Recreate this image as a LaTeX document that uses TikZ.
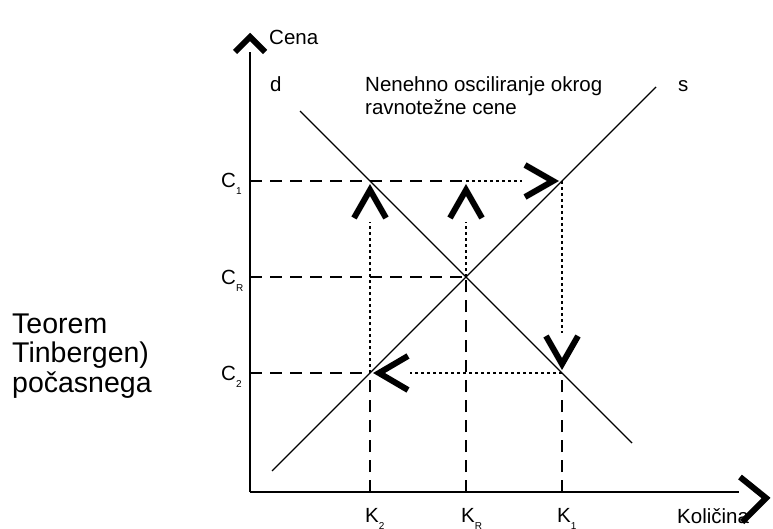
\documentclass[tikz,border=0pt]{standalone}
\usepackage{fontspec}
\setmainfont{Liberation Sans}
\usetikzlibrary{positioning}

% lowered index for the axis marks
\newcommand{\idx}[1]{\raisebox{-7pt}{\fontsize{10}{10}\selectfont #1}}

\tikzset{
  axis/.style={line width=2pt},
  curve/.style={line width=1.4pt},
  guide/.style={line width=2pt, dash pattern=on 12pt off 8pt},
  trail/.style={line width=2pt, dash pattern=on 3pt off 3pt},
  caret/.style={line width=6pt, line join=miter},
  lbl/.style={font=\fontsize{20.5}{23}\selectfont, inner sep=0pt, anchor=base west},
}

\begin{document}
\begin{tikzpicture}[x=1pt, y=-1pt]
\useasboundingbox (0,0) rectangle (773,529);

% axes
\coordinate (O) at (250,492);
\coordinate (ytop) at (250,52);
\coordinate (xend) at (739,492);
\draw[axis] (O) -- (ytop);
\draw[axis] (O) -- (xend);
\draw[caret, shift={(ytop)}] (-15,0) -- (0,-15) -- (15,0);
\draw[caret, shift={(xend)}] (1,-15) -- (27,6) -- (3,30);

% demand and supply
\coordinate (E) at (466,277);
\draw[curve] (300,111) coordinate (dtop) -- (632,443) coordinate (dbot);
\draw[curve] (272,471) coordinate (sbot) -- (656,87) coordinate (stop);

% points of the cobweb
\coordinate (P1) at (562,181);
\coordinate (P2) at (370,373);
\coordinate (Q1) at (370,181);
\coordinate (Q2) at (562,373);
\coordinate (R) at (466,181);
\coordinate (c1) at (250,181);
\coordinate (cr) at (250,277);
\coordinate (c2) at (250,373);
\coordinate (k2) at (370,492);
\coordinate (kr) at (466,492);
\coordinate (k1) at (562,492);

\draw[guide] (c1) -- (R);
\draw[guide] (cr) -- (E);
\draw[guide] (c2) -- (P2);
\draw[guide] (k2) -- (P2);
\draw[guide] (kr) -- (E);
\draw[guide] (k1) -- (Q2);

\draw[trail] (P2) -- (370,222);
\draw[trail] (E) -- (466,222);
\draw[trail] (R) -- (522,181);
\draw[trail] (P1) -- (562,333);
\draw[trail] (Q2) -- (410,373);

\draw[caret, shift={(Q1)}] (-16,37) -- (0,9) -- (16,37);
\draw[caret, shift={(R)}] (-16,37) -- (0,9) -- (16,37);
\draw[caret, shift={(P1)}] (-37,-16) -- (-9,0) -- (-37,16);
\draw[caret, shift={(Q2)}] (-16,-37) -- (0,-9) -- (16,-37);
\draw[caret, shift={(P2)}] (38,-17) -- (9,0) -- (38,17);

% labels
\node[lbl] (cena) at (269,45) {Cena};
\node[lbl] (dlbl) at (270,92) {d};
\node[lbl] (slbl) at (678,92) {s};
\node[lbl, align=left] (note) at (365,115) {Nenehno osciliranje okrog\\ravnotežne cene};
\node[lbl] (C1) at (221,188) {C\idx{1}};
\node[lbl] (CR) at (221,284) {C\idx{R}};
\node[lbl] (C2) at (221,380) {C\idx{2}};
\node[lbl] (K2) at (365,522) {K\idx{2}};
\node[lbl] (KR) at (461,522) {K\idx{R}};
\node[lbl] (K1) at (557,522) {K\idx{1}};
\node[lbl] (kol) at (677,523) {Količina};
\node[lbl, font=\fontsize{28.5}{29.5}\selectfont, align=left] (teo) at (12,392) {Teorem\\Tinbergen)\\počasnega};
\end{tikzpicture}
\end{document}
